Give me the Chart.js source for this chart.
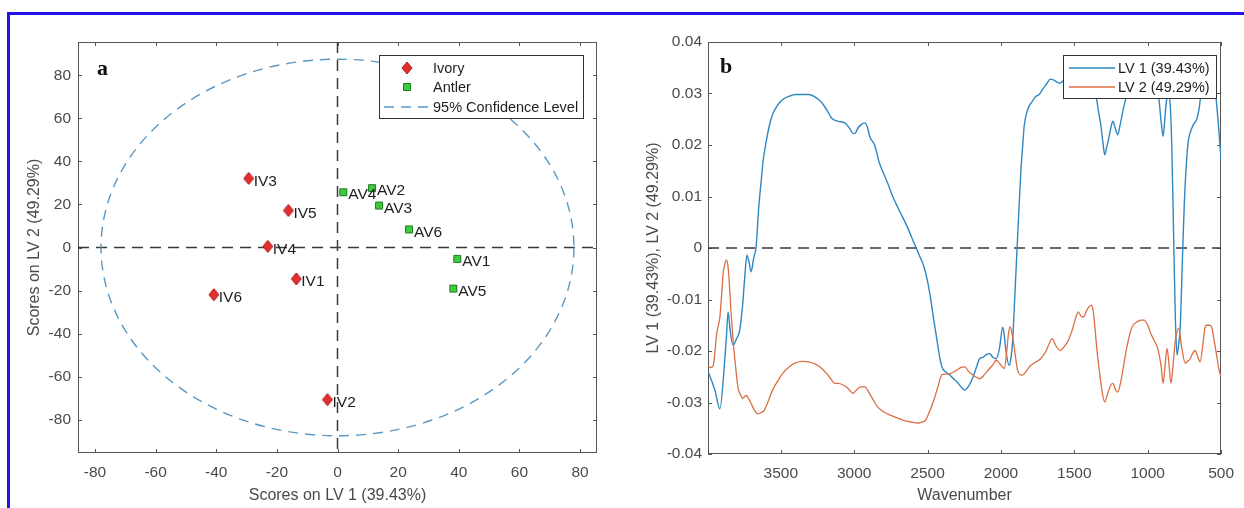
<!DOCTYPE html>
<html lang="en">
<head>
<meta charset="UTF-8" />
<title>PLS-DA scores and loadings</title>
<script src="https://cdn.jsdelivr.net/npm/chart.js@4.4.1/dist/chart.umd.min.js"></script>
<style>
  html, body { margin: 0; background: #fff; overflow: hidden; width: 1244px; height: 508px; }
  #frame { position: absolute; left: 7px; top: 12px; width: 1260px; height: 520px;
           border-top: 3px solid #2214e6; border-left: 3px solid #2214e6; }
  #scores { position: absolute; left: 0; top: 0; }
  #loadings { position: absolute; left: 620px; top: 0; }
</style>
</head>
<body>
<div id="frame"></div>
<canvas id="scores" width="620" height="508"></canvas>
<canvas id="loadings" width="624" height="508"></canvas>
<script>
// ---- panel a: scores ----
const ivoryNames = ['IV1', 'IV2', 'IV3', 'IV4', 'IV5', 'IV6'];
const ivoryLV1 = [-13.6, -3.3, -29.3, -23.0, -16.2, -40.8];
const ivoryLV2 = [-14.6, -70.7, 32.1, 0.5, 17.2, -21.9];
const antlerNames = ['AV1', 'AV2', 'AV3', 'AV4', 'AV5', 'AV6'];
const antlerLV1 = [39.5, 11.4, 13.7, 1.9, 38.2, 23.6];
const antlerLV2 = [-5.3, 27.6, 19.5, 25.7, -19.1, 8.4];
const ellipseCentre = [0, 0];
const ellipseRadii = [78, 87.5];
const scoreTicks = [-80, -60, -40, -20, 0, 20, 40, 60, 80];

// ---- panel b: loadings ----
const loadingTicks = [-0.04, -0.03, -0.02, -0.01, 0, 0.01, 0.02, 0.03, 0.04];
const wavenumberTicks = [3500, 3000, 2500, 2000, 1500, 1000, 500];
const lv1Wavenumber = [3994, 3950, 3915, 3882, 3870, 3859, 3845, 3825, 3800, 3780, 3760, 3747, 3731, 3715,
  3702, 3685, 3668, 3650, 3635, 3620, 3601, 3580, 3556, 3520, 3489, 3440, 3399, 3310, 3260, 3220, 3180,
  3153, 3108, 3063, 3030, 3007, 2990, 2974, 2950, 2929, 2910, 2895, 2861, 2828, 2800, 2772, 2740, 2705,
  2670, 2638, 2610, 2582, 2555, 2525, 2500, 2481, 2460, 2436, 2415, 2402, 2380, 2346, 2320, 2290, 2265,
  2246, 2220, 2189, 2165, 2145, 2120, 2100, 2078, 2055, 2033, 2010, 1988, 1975, 1965, 1943, 1930, 1920,
  1908, 1898, 1883, 1865, 1850, 1842, 1825, 1809, 1785, 1764, 1740, 1719, 1690, 1663, 1640, 1629, 1600,
  1550, 1480, 1420, 1375, 1349, 1335, 1320, 1305, 1293, 1280, 1266, 1250, 1237, 1220, 1204, 1190, 1172,
  1147, 1120, 1060, 980, 935, 924, 910, 895, 882, 870, 855, 845, 836, 823, 812, 800, 790, 778, 762, 750,
  735, 722, 705, 688, 666, 650, 641, 621, 600, 587, 570, 554, 534, 513, 500];
const lv1Loading = [-0.0241, -0.0275, -0.0312, -0.0218, -0.0170, -0.0124, -0.0160, -0.0189, -0.0175,
  -0.0160, -0.0110, -0.0062, -0.0014, -0.0030, -0.0046, -0.0020, 0.0003, 0.0080, 0.0126, 0.0170, 0.0204,
  0.0235, 0.0259, 0.0278, 0.0288, 0.0295, 0.0298, 0.0298, 0.0292, 0.0282, 0.0265, 0.0252, 0.0246, 0.0243,
  0.0232, 0.0222, 0.0224, 0.0233, 0.0240, 0.0243, 0.0235, 0.0217, 0.0200, 0.0165, 0.0145, 0.0126, 0.0102,
  0.0080, 0.0060, 0.0041, 0.0022, 0.0003, -0.0015, -0.0036, -0.0065, -0.0095, -0.0135, -0.0179, -0.0215,
  -0.0231, -0.0240, -0.0247, -0.0255, -0.0263, -0.0272, -0.0276, -0.0268, -0.0250, -0.0230, -0.0215,
  -0.0212, -0.0207, -0.0205, -0.0212, -0.0215, -0.0195, -0.0154, -0.0175, -0.0202, -0.0228, -0.0210,
  -0.0179, -0.0110, -0.0049, 0.0041, 0.0145, 0.0205, 0.0236, 0.0262, 0.0275, 0.0285, 0.0294, 0.0298,
  0.0307, 0.0318, 0.0328, 0.0326, 0.0324, 0.0320, 0.0330, 0.0332, 0.0325, 0.0310, 0.0290, 0.0265, 0.0240,
  0.0205, 0.0181, 0.0195, 0.0212, 0.0235, 0.0246, 0.0232, 0.0220, 0.0236, 0.0262, 0.0292, 0.0315, 0.0330,
  0.0325, 0.0300, 0.0290, 0.0250, 0.0217, 0.0255, 0.0290, 0.0300, 0.0270, 0.0200, 0.0020, -0.0130,
  -0.0208, -0.0190, -0.0150, -0.0010, 0.0090, 0.0170, 0.0210, 0.0228, 0.0240, 0.0250, 0.0270, 0.0290,
  0.0325, 0.0335, 0.0337, 0.0333, 0.0320, 0.0290, 0.0220, 0.0171];
const lv2Wavenumber = [3994, 3975, 3960, 3948, 3937, 3925, 3915, 3903, 3893, 3880, 3870, 3860, 3852, 3840,
  3825, 3808, 3792, 3775, 3758, 3745, 3735, 3720, 3702, 3680, 3657, 3635, 3612, 3585, 3556, 3520, 3489,
  3440, 3399, 3350, 3310, 3260, 3220, 3175, 3130, 3108, 3063, 3041, 3007, 2985, 2960, 2929, 2905, 2884,
  2860, 2839, 2800, 2750, 2700, 2660, 2610, 2570, 2540, 2515, 2490, 2458, 2430, 2402, 2375, 2346, 2300,
  2270, 2246, 2220, 2189, 2160, 2145, 2110, 2078, 2050, 2033, 2015, 1999, 1977, 1960, 1948, 1937, 1925,
  1910, 1887, 1870, 1853, 1825, 1797, 1765, 1730, 1696, 1670, 1651, 1625, 1596, 1570, 1540, 1515, 1495,
  1473, 1455, 1439, 1410, 1383, 1370, 1360, 1345, 1327, 1310, 1293, 1275, 1255, 1237, 1220, 1204, 1185,
  1165, 1147, 1120, 1100, 1069, 1045, 1024, 1000, 979, 955, 935, 920, 908, 895, 882, 868, 855, 841, 828,
  811, 789, 770, 744, 728, 710, 695, 677, 660, 643, 625, 610, 599, 580, 565, 550, 532, 515, 502, 500];
const lv2Loading = [-0.0231, -0.0232, -0.0228, -0.0200, -0.0166, -0.0150, -0.0134, -0.0090, -0.0049,
  -0.0030, -0.0023, -0.0035, -0.0062, -0.0120, -0.0179, -0.0230, -0.0270, -0.0285, -0.0292, -0.0288,
  -0.0286, -0.0292, -0.0302, -0.0315, -0.0322, -0.0320, -0.0315, -0.0297, -0.0276, -0.0258, -0.0244,
  -0.0230, -0.0223, -0.0220, -0.0221, -0.0226, -0.0234, -0.0248, -0.0263, -0.0263, -0.0268, -0.0273,
  -0.0282, -0.0276, -0.0270, -0.0269, -0.0278, -0.0288, -0.0300, -0.0309, -0.0318, -0.0325, -0.0331,
  -0.0335, -0.0338, -0.0340, -0.0338, -0.0335, -0.0320, -0.0296, -0.0270, -0.0246, -0.0245, -0.0244,
  -0.0237, -0.0232, -0.0231, -0.0240, -0.0247, -0.0252, -0.0254, -0.0245, -0.0234, -0.0225, -0.0218,
  -0.0222, -0.0228, -0.0234, -0.0200, -0.0165, -0.0153, -0.0165, -0.0192, -0.0237, -0.0246, -0.0247,
  -0.0238, -0.0228, -0.0222, -0.0215, -0.0202, -0.0185, -0.0176, -0.0190, -0.0199, -0.0192, -0.0179,
  -0.0160, -0.0140, -0.0124, -0.0132, -0.0134, -0.0118, -0.0111, -0.0125, -0.0153, -0.0200, -0.0244,
  -0.0280, -0.0299, -0.0285, -0.0268, -0.0263, -0.0275, -0.0280, -0.0262, -0.0230, -0.0200, -0.0165,
  -0.0150, -0.0143, -0.0140, -0.0140, -0.0150, -0.0166, -0.0180, -0.0192, -0.0210, -0.0231, -0.0263,
  -0.0230, -0.0195, -0.0225, -0.0263, -0.0230, -0.0179, -0.0156, -0.0190, -0.0224, -0.0220, -0.0215,
  -0.0205, -0.0199, -0.0210, -0.0221, -0.0190, -0.0155, -0.0150, -0.0150, -0.0153, -0.0175, -0.0205,
  -0.0235, -0.0247, -0.0245];

const FONT = 'Liberation Sans, Arial, Helvetica, sans-serif';
const TEXT = '#4a4a4a';
const AXIS = '#555';

// small marker bitmaps so the diamonds come out taller than wide, as matlab draws them
function marker(w, h, fill, edge, shape) {
  const c = document.createElement('canvas');
  c.width = w + 2; c.height = h + 2;
  const g = c.getContext('2d');
  g.beginPath();
  if (shape === 'diamond') {
    g.moveTo(c.width / 2, 1); g.lineTo(c.width - 1, c.height / 2);
    g.lineTo(c.width / 2, c.height - 1); g.lineTo(1, c.height / 2);
    g.closePath();
  } else {
    g.rect(1.5, 1.5, w - 1, h - 1);
  }
  g.fillStyle = fill; g.fill();
  g.strokeStyle = edge; g.lineWidth = 1; g.stroke();
  return c;
}
const ivoryMarker = marker(10, 12, '#e42d2d', '#a81616', 'diamond');
const antlerMarker = marker(8, 8, '#3ccb3c', '#217a21', 'square');

const xy = (xs, ys) => xs.map((v, i) => ({ x: v, y: ys[i] }));
const fixedTicks = list => scale => { scale.ticks = list.map(v => ({ value: v })); };

// box round the plot area with inward ticks on all four sides
const axesBox = {
  id: 'axesBox',
  beforeDatasetsDraw(chart) {
    const { ctx, chartArea: a, scales: { x, y } } = chart;
    ctx.save();
    ctx.strokeStyle = AXIS;
    ctx.lineWidth = 1;
    ctx.strokeRect(Math.round(a.left) + 0.5, Math.round(a.top) + 0.5,
      Math.round(a.width) - 1, Math.round(a.height) - 1);
    ctx.beginPath();
    x.ticks.forEach(t => {
      const px = Math.round(x.getPixelForValue(t.value)) + 0.5;
      ctx.moveTo(px, a.bottom); ctx.lineTo(px, a.bottom - 4);
      ctx.moveTo(px, a.top); ctx.lineTo(px, a.top + 4);
    });
    y.ticks.forEach(t => {
      const py = Math.round(y.getPixelForValue(t.value)) + 0.5;
      ctx.moveTo(a.left, py); ctx.lineTo(a.left + 4, py);
      ctx.moveTo(a.right, py); ctx.lineTo(a.right - 4, py);
    });
    ctx.stroke();

    // dashed zero lines
    const opts = chart.options.plugins.axesBox;
    ctx.setLineDash([11, 7]);
    ctx.strokeStyle = '#3a3a3a';
    ctx.lineWidth = 1.5;
    ctx.beginPath();
    if (opts.zeroX) {
      const px = x.getPixelForValue(0);
      ctx.moveTo(px, a.top); ctx.lineTo(px, a.bottom);
    }
    const py = y.getPixelForValue(0);
    ctx.moveTo(a.left, py); ctx.lineTo(a.right, py);
    ctx.stroke();

    // panel letter
    ctx.setLineDash([]);
    ctx.fillStyle = '#111';
    ctx.font = 'bold 22px Liberation Serif, Times New Roman, serif';
    ctx.textBaseline = 'alphabetic';
    ctx.fillText(opts.letter, a.left + opts.letterAt[0], a.top + opts.letterAt[1]);
    ctx.restore();
  }
};

// 95% confidence ellipse, drawn through the axis scales
const confidenceEllipse = {
  id: 'confidenceEllipse',
  beforeDatasetsDraw(chart) {
    const { ctx, chartArea: a, scales: { x, y } } = chart;
    const cx = x.getPixelForValue(ellipseCentre[0]);
    const cy = y.getPixelForValue(ellipseCentre[1]);
    const rx = x.getPixelForValue(ellipseCentre[0] + ellipseRadii[0]) - cx;
    const ry = cy - y.getPixelForValue(ellipseCentre[1] + ellipseRadii[1]);
    ctx.save();
    ctx.beginPath();
    ctx.rect(a.left, a.top, a.width, a.height);
    ctx.clip();
    ctx.setLineDash([10, 7]);
    ctx.strokeStyle = '#5b98c2';
    ctx.lineWidth = 1.4;
    ctx.beginPath();
    ctx.ellipse(cx, cy, rx, ry, 0, 0, Math.PI * 2);
    ctx.stroke();
    ctx.restore();
  }
};

// sample names next to each marker
const sampleNames = {
  id: 'sampleNames',
  afterDatasetsDraw(chart) {
    const { ctx } = chart;
    ctx.save();
    ctx.font = '15.5px ' + FONT;
    ctx.fillStyle = '#1e1e1e';
    ctx.textBaseline = 'middle';
    chart.data.datasets.forEach((ds, i) => {
      chart.getDatasetMeta(i).data.forEach((pt, j) => {
        ctx.fillText(ds.names[j], pt.x + 5, pt.y + 3);
      });
    });
    ctx.restore();
  }
};

// boxed legend inside the plot, matlab style
const boxLegend = {
  id: 'boxLegend',
  afterDatasetsDraw(chart) {
    const o = chart.options.plugins.boxLegend;
    const { ctx } = chart;
    ctx.save();
    ctx.fillStyle = '#fff';
    ctx.fillRect(o.box[0], o.box[1], o.box[2], o.box[3]);
    ctx.strokeStyle = '#333';
    ctx.lineWidth = 1;
    ctx.strokeRect(o.box[0] + 0.5, o.box[1] + 0.5, o.box[2], o.box[3]);
    ctx.font = '14.5px ' + FONT;
    ctx.textBaseline = 'middle';
    o.items.forEach((it, k) => {
      const yy = o.box[1] + o.rowY[k];
      if (it.image) {
        ctx.drawImage(it.image, o.box[0] + o.symbolX - it.image.width / 2, yy - it.image.height / 2);
      } else {
        ctx.strokeStyle = it.color;
        ctx.lineWidth = it.width;
        ctx.setLineDash(it.dash || []);
        ctx.beginPath();
        ctx.moveTo(o.box[0] + o.line[0], yy);
        ctx.lineTo(o.box[0] + o.line[1], yy);
        ctx.stroke();
        ctx.setLineDash([]);
      }
      ctx.fillStyle = '#1e1e1e';
      ctx.fillText(it.text, o.box[0] + o.textX, yy + 1);
    });
    ctx.restore();
  }
};

const tickFont = { family: FONT, size: 15.5 };
const titleFont = { family: FONT, size: 16 };

new Chart(document.getElementById('scores'), {
  type: 'scatter',
  data: {
    datasets: [
      { label: 'Ivory', names: ivoryNames, data: xy(ivoryLV1, ivoryLV2),
        pointStyle: ivoryMarker, pointRadius: 6 },
      { label: 'Antler', names: antlerNames, data: xy(antlerLV1, antlerLV2),
        pointStyle: antlerMarker, pointRadius: 5 }
    ]
  },
  options: {
    responsive: false,
    animation: false,
    devicePixelRatio: 1,
    layout: { padding: { left: 0, top: 42, right: 23, bottom: 0 } },
    plugins: {
      legend: { display: false },
      tooltip: { enabled: false },
      axesBox: { zeroX: true, letter: 'a', letterAt: [19, 33] },
      boxLegend: {
        box: [379, 55, 204, 63],
        symbolX: 28, line: [5, 50], textX: 54,
        rowY: [13, 32, 52],
        items: [
          { image: ivoryMarker, text: 'Ivory' },
          { image: antlerMarker, text: 'Antler' },
          { color: '#5b98c2', width: 1.4, dash: [10, 7], text: '95% Confidence Level' }
        ]
      }
    },
    scales: {
      x: {
        type: 'linear', min: -85.6, max: 85.6,
        afterBuildTicks: fixedTicks(scoreTicks),
        afterFit: s => { s.height = 55; },
        grid: { display: false, drawTicks: false },
        border: { display: false },
        ticks: { font: tickFont, color: TEXT, padding: 10, callback: v => String(v) },
        title: { display: true, text: 'Scores on LV 1 (39.43%)', font: titleFont, color: TEXT,
                 padding: { top: 0, bottom: 3 } }
      },
      y: {
        type: 'linear', min: -95.5, max: 95.5,
        afterBuildTicks: fixedTicks(scoreTicks),
        afterFit: s => { s.width = 78; },
        grid: { display: false, drawTicks: false },
        border: { display: false },
        ticks: { font: tickFont, color: TEXT, padding: 7, callback: v => String(v) },
        title: { display: true, text: 'Scores on LV 2 (49.29%)', font: titleFont, color: TEXT,
                 padding: { top: 25, bottom: 0 } }
      }
    }
  },
  plugins: [axesBox, confidenceEllipse, sampleNames, boxLegend]
});

new Chart(document.getElementById('loadings'), {
  type: 'line',
  data: {
    datasets: [
      { label: 'LV 2 (49.29%)', data: xy(lv2Wavenumber, lv2Loading), order: 0,
        borderColor: '#dc6e45', borderWidth: 1.3 },
      { label: 'LV 1 (39.43%)', data: xy(lv1Wavenumber, lv1Loading), order: 1,
        borderColor: '#2f87c2', borderWidth: 1.4 }
    ]
  },
  options: {
    responsive: false,
    animation: false,
    devicePixelRatio: 1,
    layout: { padding: { left: 0, top: 42, right: 16, bottom: 0 } },
    elements: { point: { radius: 0 }, line: { cubicInterpolationMode: 'monotone' } },
    plugins: {
      legend: { display: false },
      tooltip: { enabled: false },
      axesBox: { zeroX: false, letter: 'b', letterAt: [12, 31] },
      boxLegend: {
        box: [443, 55, 153, 43],
        line: [6, 52], textX: 55,
        rowY: [13, 32],
        items: [
          { color: '#2f87c2', width: 1.4, text: 'LV 1 (39.43%)' },
          { color: '#dc6e45', width: 1.4, text: 'LV 2 (49.29%)' }
        ]
      }
    },
    scales: {
      x: {
        type: 'linear', min: 500, max: 3996, reverse: true,
        afterBuildTicks: fixedTicks(wavenumberTicks),
        afterFit: s => { s.height = 54; },
        grid: { display: false, drawTicks: false },
        border: { display: false },
        ticks: { font: tickFont, color: TEXT, padding: 10, callback: v => String(v) },
        title: { display: true, text: 'Wavenumber', font: titleFont, color: TEXT,
                 padding: { top: 0, bottom: 3 } }
      },
      y: {
        type: 'linear', min: -0.04, max: 0.04,
        afterBuildTicks: fixedTicks(loadingTicks),
        afterFit: s => { s.width = 88; },
        grid: { display: false, drawTicks: false },
        border: { display: false },
        ticks: { font: tickFont, color: TEXT, padding: 6,
                 callback: v => String(parseFloat(v.toFixed(2))) },
        title: { display: true, text: 'LV 1 (39.43%), LV 2 (49.29%)', font: titleFont, color: TEXT,
                 padding: { top: 24, bottom: 0 } }
      }
    }
  },
  plugins: [axesBox, boxLegend]
});
</script>
</body>
</html>
